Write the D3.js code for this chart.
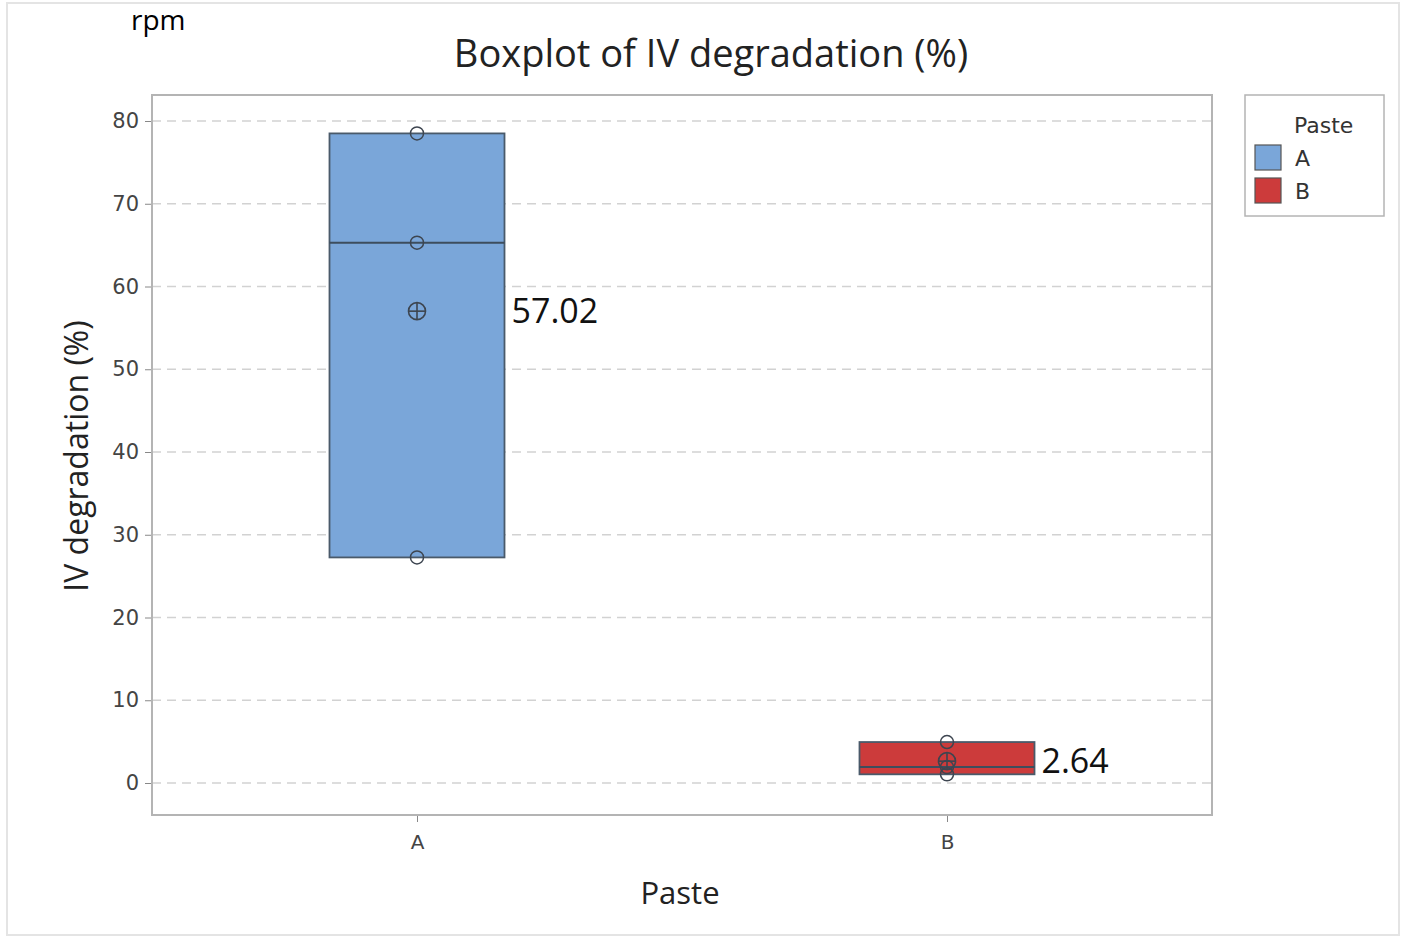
<!DOCTYPE html>
<html><head><meta charset="utf-8">
<script src="https://cdn.jsdelivr.net/npm/d3@7"></script>
<style>body{margin:0;background:#fff}</style>
</head><body>
<svg id="c" width="1402" height="938"></svg>
<script>
const categories = ["A", "B"];
const valuesA = [78.5, 65.3, 27.26];
const valuesB = [4.95, 1.92, 1.05];
const means = [57.02, 2.64];
const yTicks = [0, 10, 20, 30, 40, 50, 60, 70, 80];
const colors = ["#7aa6d9", "#cc3b3b"];

const series = [valuesA, valuesB];
const svg = d3.select("#c");
const L = 152, R = 1212, T = 95, B = 815;

// outer faint border
svg.append("rect").attr("x", 7).attr("y", 3).attr("width", 1392).attr("height", 932)
  .attr("fill", "none").attr("stroke", "#e4e4e4").attr("stroke-width", 2);

const x = d3.scalePoint().domain(categories).range([L, R]).padding(0.5);
const y = d3.scaleLinear().domain([0, 80]).range([783, 121]);

// gridlines
svg.append("g").selectAll("line").data(yTicks).join("line")
  .attr("x1", L).attr("x2", R).attr("y1", d => y(d)).attr("y2", d => y(d))
  .attr("stroke", "#d2d2d2").attr("stroke-width", 1.5).attr("stroke-dasharray", "9,6");

// y axis
const yAxis = d3.axisLeft(y).tickValues(yTicks).tickSize(7).tickPadding(6);
const gy = svg.append("g").attr("transform", `translate(${L},0)`).call(yAxis);
gy.select(".domain").remove();
gy.selectAll("line").attr("stroke", "#888");
gy.selectAll("text").attr("font-family", "DejaVu Sans, Verdana").attr("font-size", 21).attr("fill", "#444");

// x axis
const xAxis = d3.axisBottom(x).tickSize(7).tickPadding(13);
const gx = svg.append("g").attr("transform", `translate(0,${B})`).call(xAxis);
gx.select(".domain").remove();
gx.selectAll("line").attr("stroke", "#888");
gx.selectAll("text").attr("font-family", "DejaVu Sans, Verdana").attr("font-size", 20).attr("fill", "#444");

// frame
svg.append("rect").attr("x", L).attr("y", T).attr("width", R - L).attr("height", B - T)
  .attr("fill", "none").attr("stroke", "#b4b4b4").attr("stroke-width", 2);

const boxW = 175;
series.forEach((vals, i) => {
  const s = vals.slice().sort(d3.ascending);
  const q1 = d3.quantile(s, 0), q3 = d3.quantile(s, 1), med = d3.median(s);
  const cx = x(categories[i]);
  const g = svg.append("g");
  g.append("rect").attr("x", cx - boxW / 2).attr("y", y(q3)).attr("width", boxW)
    .attr("height", y(q1) - y(q3)).attr("fill", colors[i]).attr("stroke", "#4a5a6a").attr("stroke-width", 1.8);
  g.append("line").attr("x1", cx - boxW / 2).attr("x2", cx + boxW / 2).attr("y1", y(med)).attr("y2", y(med))
    .attr("stroke", "#3d4d5d").attr("stroke-width", 2);
  g.selectAll("circle.pt").data(vals).join("circle").attr("class", "pt")
    .attr("cx", cx).attr("cy", d => y(d)).attr("r", 6.5)
    .attr("fill", "none").attr("stroke", "#3d4550").attr("stroke-width", 1.5);
  // mean symbol
  const my = y(means[i]);
  g.append("circle").attr("cx", cx).attr("cy", my).attr("r", 8.5).attr("fill", "none").attr("stroke", "#3d4550").attr("stroke-width", 1.6);
  g.append("line").attr("x1", cx - 8.5).attr("x2", cx + 8.5).attr("y1", my).attr("y2", my).attr("stroke", "#3d4550").attr("stroke-width", 1.6);
  g.append("line").attr("x1", cx).attr("x2", cx).attr("y1", my - 8.5).attr("y2", my + 8.5).attr("stroke", "#3d4550").attr("stroke-width", 1.6);
  g.append("text").attr("x", cx + boxW / 2 + 7).attr("y", my).attr("dy", "0.36em")
    .attr("font-family", "Open Sans, Noto Sans").attr("font-size", 34).attr("fill", "#111")
    .text(means[i].toFixed(2));
});

// titles
svg.append("text").attr("x", 131).attr("y", 30).attr("font-family", "Open Sans, Noto Sans")
  .attr("font-size", 28).attr("fill", "#000").text("rpm");
svg.append("text").attr("x", 711).attr("y", 67).attr("text-anchor", "middle").attr("font-family", "Open Sans, Noto Sans")
  .attr("font-size", 38).attr("font-weight", 500).attr("fill", "#222").text("Boxplot of IV degradation (%)");
svg.append("text").attr("x", 680).attr("y", 904).attr("text-anchor", "middle").attr("font-family", "Open Sans, Noto Sans")
  .attr("font-size", 31).attr("fill", "#222").text("Paste");
svg.append("text").attr("transform", "translate(88,456) rotate(-90)").attr("text-anchor", "middle")
  .attr("font-family", "Open Sans, Noto Sans").attr("font-size", 32).attr("fill", "#222").text("IV degradation (%)");

// legend
const lg = svg.append("g");
lg.append("rect").attr("x", 1245).attr("y", 95).attr("width", 139).attr("height", 121)
  .attr("fill", "#fff").attr("stroke", "#b4b4b4").attr("stroke-width", 1.5);
lg.append("text").attr("x", 1294).attr("y", 133).attr("font-family", "DejaVu Sans, Verdana")
  .attr("font-size", 22).attr("fill", "#333").text("Paste");
categories.forEach((c, i) => {
  lg.append("rect").attr("x", 1255).attr("y", 145 + i * 33).attr("width", 26).attr("height", 25)
    .attr("fill", colors[i]).attr("stroke", "#555").attr("stroke-width", 1.2);
  lg.append("text").attr("x", 1295).attr("y", 166 + i * 33).attr("font-family", "DejaVu Sans, Verdana")
    .attr("font-size", 22).attr("fill", "#333").text(c);
});
</script>
</body></html>
